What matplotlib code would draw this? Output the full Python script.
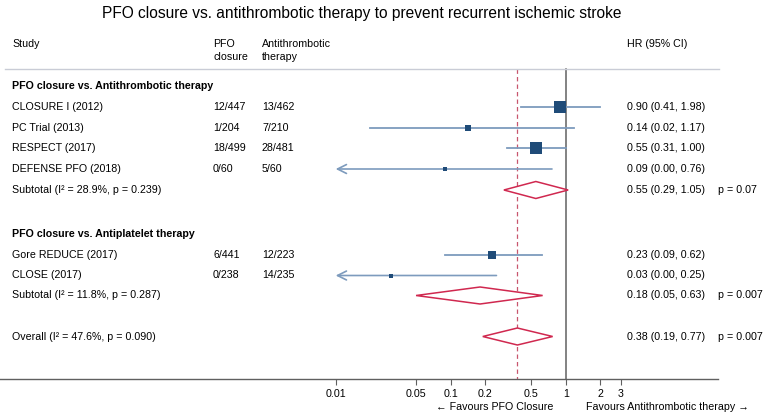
import matplotlib
matplotlib.use("Agg")
import matplotlib.pyplot as plt
import numpy as np

plt.rcParams["font.family"] = ["Liberation Sans", "DejaVu Sans"]

# study level data
studies = ["CLOSURE I (2012)", "PC Trial (2013)", "RESPECT (2017)",
           "DEFENSE PFO (2018)", "Gore REDUCE (2017)", "CLOSE (2017)"]
closure_events = ["12/447", "1/204", "18/499", "0/60", "6/441", "0/238"]
control_events = ["13/462", "7/210", "28/481", "5/60", "12/223", "14/235"]
hr = [0.90, 0.14, 0.55, 0.09, 0.23, 0.03]
hr_lo = [0.41, 0.02, 0.31, 0.00, 0.09, 0.00]
hr_hi = [1.98, 1.17, 1.00, 0.76, 0.62, 0.25]
weights = [30, 10, 32, 4, 17, 4]  # rough study weights (%)

# pooled estimates
groups = ["PFO closure vs. Antithrombotic therapy", "PFO closure vs. Antiplatelet therapy"]
pooled_labels = ["Subtotal (I\u00b2 = 28.9%, p = 0.239)",
                 "Subtotal (I\u00b2 = 11.8%, p = 0.287)",
                 "Overall (I\u00b2 = 47.6%, p = 0.090)"]
pooled_hr = [0.55, 0.18, 0.38]
pooled_lo = [0.29, 0.05, 0.19]
pooled_hi = [1.05, 0.63, 0.77]
pooled_p = ["p = 0.07", "p = 0.007", "p = 0.007"]
overall_hr = 0.38

ticks = [0.01, 0.05, 0.1, 0.2, 0.5, 1, 2, 3]
tick_labels = ["0.01", "0.05", "0.1", "0.2", "0.5", "1", "2", "3"]

# layout (pixel rows from top)
W, H = 768, 417
study_y = [106.5, 127.5, 148, 169, 254.5, 275.5]
group_y = [86, 234]
pooled_y = [190, 295.5, 336.5]
axis_y = 379
header_line_y = 69
x0_px, dec_px = 565.7, 115.0   # pixel of HR=1 and pixels per decade
fs = 7.7

fig = plt.figure(figsize=(W / 100, H / 100), dpi=100)

# log axis for the marks
axw = 718 / W
ax = fig.add_axes([0, (H - axis_y) / H, axw, axis_y / H])
ax.set_xscale("log")
ax.set_xlim(10 ** (-x0_px / dec_px), 10 ** ((718 - x0_px) / dec_px))
ax.set_ylim(axis_y, 0)
ax.patch.set_alpha(0)
for s in ["top", "right", "left"]:
    ax.spines[s].set_visible(False)
ax.spines["bottom"].set_color("#606060")
ax.spines["bottom"].set_linewidth(1.0)
ax.set_yticks([])
ax.set_xticks(ticks)
ax.set_xticklabels(tick_labels)
ax.xaxis.set_minor_locator(matplotlib.ticker.NullLocator())
ax.tick_params(axis="x", length=4, width=0.8, color="#606060", labelsize=fs, pad=3.5)

ax.plot([1, 1], [header_line_y, axis_y], color="#606060", lw=1.1)
ax.plot([overall_hr, overall_hr], [header_line_y, axis_y], color="#c8566e",
        lw=0.9, ls=(0, (3.5, 2.5)))

line_c = "#7d9bbd"
box_c = "#1f4b78"
xmin = 0.01
for i in range(len(studies)):
    y = study_y[i]
    if hr_lo[i] < xmin:
        ax.annotate("", xy=(xmin, y), xytext=(hr_hi[i], y),
                    arrowprops=dict(arrowstyle="->", color=line_c, lw=1.2,
                                    mutation_scale=16, shrinkA=0, shrinkB=0))
    else:
        ax.plot([hr_lo[i], hr_hi[i]], [y, y], color=line_c, lw=1.3)
    ax.plot(hr[i], y, marker="s", color=box_c, ms=1.55 * np.sqrt(weights[i]),
            mew=0, ls="none", zorder=4)

for i in range(len(pooled_hr)):
    y = pooled_y[i]
    xs = [pooled_lo[i], pooled_hr[i], pooled_hi[i], pooled_hr[i], pooled_lo[i]]
    ys = [y, y - 8.5, y, y + 8.5, y]
    ax.fill(xs, ys, facecolor="white", edgecolor="#d0284f", lw=1.1, zorder=3)

# text overlay
tx = fig.add_axes([0, 0, 1, 1])
tx.set_xlim(0, W)
tx.set_ylim(H, 0)
tx.axis("off")
tx.patch.set_alpha(0)

tx.text(362, 13, "PFO closure vs. antithrombotic therapy to prevent recurrent ischemic stroke",
        ha="center", va="center", fontsize=11.2)
tx.text(12, 44, "Study", va="center", fontsize=fs)
tx.text(213, 44, "PFO", va="center", fontsize=fs)
tx.text(213, 57, "closure", va="center", fontsize=fs)
tx.text(262, 44, "Antithrombotic", va="center", fontsize=fs)
tx.text(262, 57, "therapy", va="center", fontsize=fs)
tx.text(627, 44, "HR (95% CI)", va="center", fontsize=fs)
tx.plot([5, 719], [header_line_y, header_line_y], color="#c9ccd6", lw=1.0)

for g, y in zip(groups, group_y):
    tx.text(12, y, g, va="center", fontsize=fs, fontweight="bold")
for i in range(len(studies)):
    y = study_y[i]
    tx.text(12, y, studies[i], va="center", fontsize=fs)
    tx.text(213, y, closure_events[i], va="center", fontsize=fs)
    tx.text(262, y, control_events[i], va="center", fontsize=fs)
    tx.text(627, y, f"{hr[i]:.2f} ({hr_lo[i]:.2f}, {hr_hi[i]:.2f})", va="center", fontsize=fs)
for i in range(len(pooled_hr)):
    y = pooled_y[i]
    tx.text(12, y, pooled_labels[i], va="center", fontsize=fs)
    tx.text(627, y, f"{pooled_hr[i]:.2f} ({pooled_lo[i]:.2f}, {pooled_hi[i]:.2f})",
            va="center", fontsize=fs)
    tx.text(718, y, pooled_p[i], va="center", fontsize=fs)

tx.text(553, 406.5, "\u2190 Favours PFO Closure", ha="right", va="center", fontsize=fs)
tx.text(586, 406.5, "Favours Antithrombotic therapy \u2192", ha="left", va="center", fontsize=fs)

fig.savefig("out.png", dpi=100)
